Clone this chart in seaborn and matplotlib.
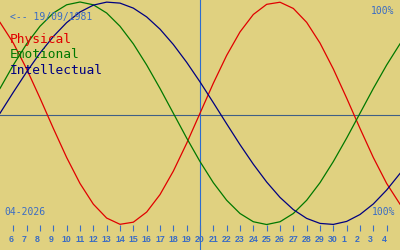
import numpy as np
import pandas as pd
import matplotlib
matplotlib.use("Agg")
import matplotlib.pyplot as plt
import matplotlib.transforms as mtransforms
import seaborn as sns

# ---- data ----
days = list(range(5, 36))  # 5 April .. 5 May (day index)
physical = [0.817, 0.631, 0.398, 0.136, -0.136, -0.398, -0.631, -0.817, -0.942, -0.998,
            -0.979, -0.888, -0.731, -0.520, -0.270, 0.000, 0.270, 0.520, 0.731, 0.888,
            0.979, 0.998, 0.942, 0.817, 0.631, 0.398, 0.136, -0.136, -0.398, -0.631, -0.817]
emotional = [0.223, 0.434, 0.624, 0.782, 0.901, 0.975, 1.000, 0.975, 0.901, 0.782,
             0.624, 0.434, 0.223, 0.000, -0.223, -0.434, -0.624, -0.782, -0.901, -0.975,
             -1.000, -0.975, -0.901, -0.782, -0.624, -0.434, -0.223, 0.000, 0.223, 0.434, 0.624]
intellectual = [0.000, 0.189, 0.372, 0.541, 0.690, 0.815, 0.910, 0.972, 0.999, 0.990,
                0.945, 0.866, 0.756, 0.618, 0.458, 0.282, 0.095, -0.095, -0.282, -0.458,
                -0.618, -0.756, -0.866, -0.945, -0.990, -0.999, -0.972, -0.910, -0.815, -0.690, -0.541]
series_names = ["Physical", "Emotional", "Intellectual"]
series_colors = ["#e00000", "#007800", "#000080"]
tick_days = list(range(6, 35))
tick_labels = [str(d) for d in range(6, 31)] + ["1", "2", "3", "4"]
today = 20
birth_label = "<-- 19/09/1981"
month_label = "04-2026"
top_label = "100%"
bottom_label = "100%"

BG = "#e0d180"
BLUE = "#3a6cc4"

df = pd.DataFrame({
    "day": days * 3,
    "value": physical + emotional + intellectual,
    "series": [n for n in series_names for _ in days],
})

fig = plt.figure(figsize=(4, 2.5), dpi=100)
fig.patch.set_facecolor(BG)
ax = fig.add_axes([0, 0, 1, 1])
ax.set_facecolor(BG)

sns.lineplot(data=df, x="day", y="value", hue="series",
             palette=dict(zip(series_names, series_colors)),
             legend=False, linewidth=0.9, ax=ax)

ax.set_xlim(5, 35)
ax.set_ylim(-1.229, 1.018)
ax.axhline(-0.0157, color="#3f5f86", lw=0.8, zorder=1)
ax.axvline(today, color="#2c6cd0", lw=0.8, zorder=1)
ax.axis("off")

# day ticks
trans = mtransforms.blended_transform_factory(ax.transData, ax.transAxes)
ax.vlines(tick_days, 1 - 231 / 250, 1 - 225 / 250, transform=trans, color=BLUE, lw=0.8)
lab_trans = mtransforms.offset_copy(trans, fig=fig, x=-5, y=0, units="dots")
for d, l in zip(tick_days, tick_labels):
    ax.text(d, 1 - 239 / 250, l, transform=lab_trans, ha="left", va="center",
            fontsize=6.3, fontweight="bold", color=BLUE, family="Liberation Sans")

mono = "DejaVu Sans Mono"
def px(x, y):
    return x / 400, 1 - y / 250

ax.text(*px(10, 17), birth_label, transform=ax.transAxes, ha="left", va="center",
        fontsize=7, color=BLUE, family=mono)
for name, col, base in zip(series_names, series_colors, [43, 58, 74]):
    ax.text(*px(10, base), name, transform=ax.transAxes, ha="left", va="baseline",
            fontsize=9.3, color=col, family=mono)
ax.text(*px(394, 11.5), top_label, transform=ax.transAxes, ha="right", va="center",
        fontsize=7, color=BLUE, family=mono)
ax.text(*px(395, 212), bottom_label, transform=ax.transAxes, ha="right", va="center",
        fontsize=7, color=BLUE, family=mono)
ax.text(*px(4, 212), month_label, transform=ax.transAxes, ha="left", va="center",
        fontsize=7, color=BLUE, family=mono)

fig.savefig("out.png", dpi=100, facecolor=BG)
